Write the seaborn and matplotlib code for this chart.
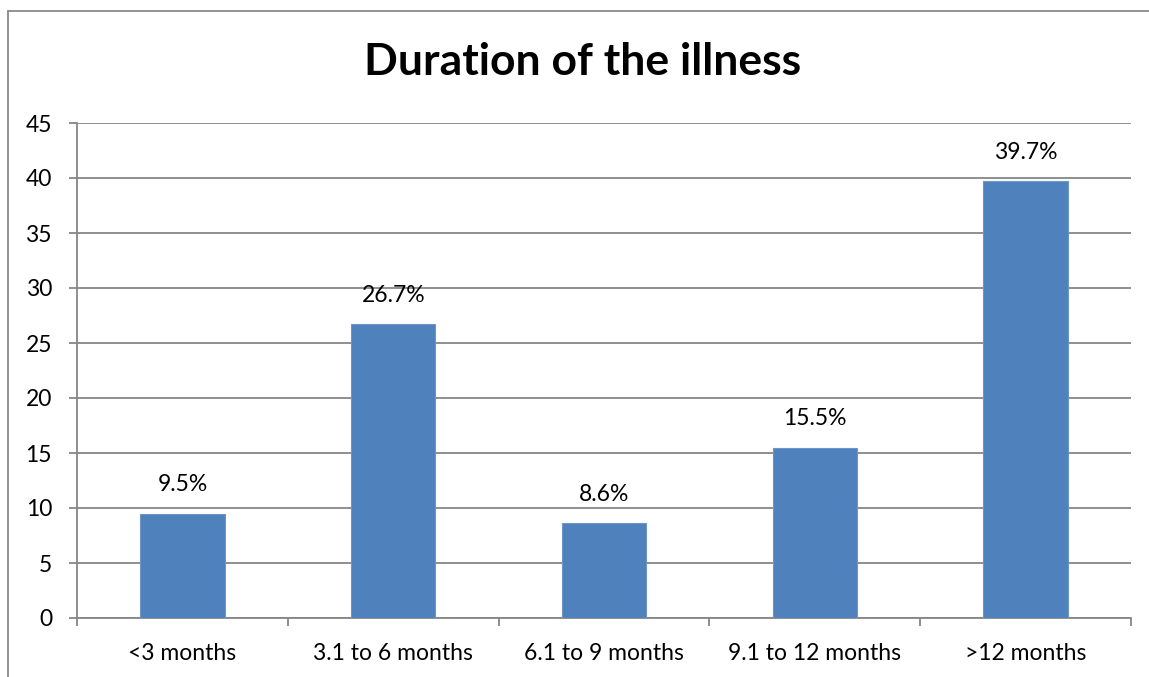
import matplotlib
matplotlib.use("Agg")
import matplotlib.pyplot as plt
import seaborn as sns
import pandas as pd
from matplotlib.lines import Line2D

categories = ["<3 months", "3.1 to 6 months", "6.1 to 9 months", "9.1 to 12 months", ">12 months"]
values = [9.5, 26.7, 8.6, 15.5, 39.7]
labels = ["9.5%", "26.7%", "8.6%", "15.5%", "39.7%"]
yticks = [0, 5, 10, 15, 20, 25, 30, 35, 40, 45]

sns.set_theme(style="white")
plt.rcParams['font.family'] = ['Lato', 'DejaVu Sans']

W, H = 1149, 677
fig = plt.figure(figsize=(W / 100, H / 100), dpi=100)
ax = fig.add_axes([77 / W, 1 - 618 / H, (1131 - 77) / W, (618 - 123) / H])

df = pd.DataFrame({"cat": categories, "val": values})
grid_c = "#868686"
sns.barplot(data=df, x="cat", y="val", ax=ax, color="#4F81BD", width=0.4,
            saturation=1, edgecolor="#6F95C8", linewidth=0.8, zorder=3)

ax.set_ylim(0, 45)
ax.set_xlim(-0.5, len(categories) - 0.5)
ax.set_yticks(yticks)
ax.set_yticklabels([str(t) for t in yticks])
ax.set_xlabel("")
ax.set_ylabel("")
for y in yticks:
    ax.axhline(y, color=grid_c, linewidth=1.3, zorder=1)

for s in ["top", "right"]:
    ax.spines[s].set_visible(False)
for s in ["left", "bottom"]:
    ax.spines[s].set_color(grid_c)
    ax.spines[s].set_linewidth(1.3)

ax.tick_params(axis="y", left=True, length=6, width=1.3, color=grid_c, pad=12,
               labelsize=16.5, labelcolor="black")
ax.tick_params(axis="x", bottom=False, pad=12, labelsize=16.5, labelcolor="black")
# category boundary ticks
ax.set_xticks([i - 0.5 for i in range(len(categories) + 1)], minor=True)
ax.tick_params(axis="x", which="minor", bottom=True, length=6, width=1.3, color=grid_c)

for i, (v, lab) in enumerate(zip(values, labels)):
    ax.annotate(lab, (i, v), xytext=(0, 13), textcoords="offset points",
                ha="center", va="bottom", fontsize=16.5, color="black")

fig.text(583 / W, 1 - 62 / H, "Duration of the illness", ha="center", va="center",
         fontsize=32, fontweight="bold", color="black")

# outer frame
fig.add_artist(Line2D([8 / W, 8 / W], [0, 1 - 11 / H], transform=fig.transFigure,
                      color="#8A8A8A", linewidth=1.3))
fig.add_artist(Line2D([8 / W, 1], [1 - 11 / H, 1 - 11 / H], transform=fig.transFigure,
                      color="#8A8A8A", linewidth=1.3))

fig.savefig("out.png", dpi=100)
